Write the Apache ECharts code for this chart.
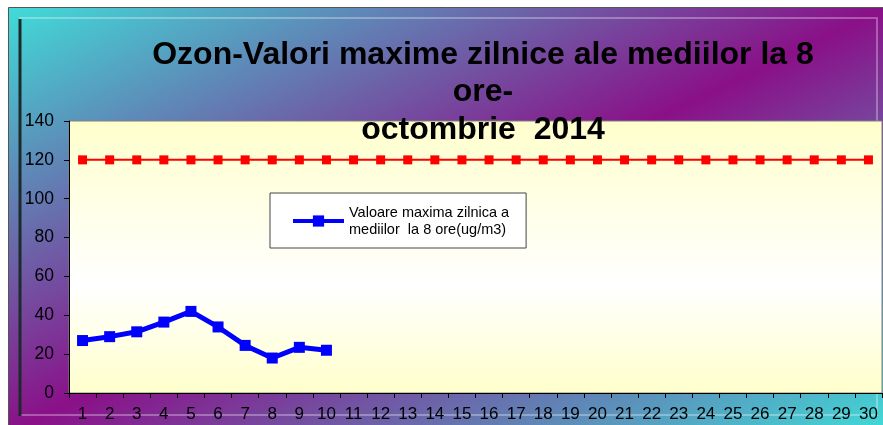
<!DOCTYPE html>
<html>
<head>
<meta charset="utf-8">
<script src="https://cdn.jsdelivr.net/npm/echarts@6/dist/echarts.min.js"></script>
<style>
  html, body { margin: 0; padding: 0; background: #fff; }
  #chart { width: 883px; height: 425px; }
</style>
</head>
<body>
<div id="chart"></div>
<script>
// zilele lunii
const days = ['1', '2', '3', '4', '5', '6', '7', '8', '9', '10',
  '11', '12', '13', '14', '15', '16', '17', '18', '19', '20',
  '21', '22', '23', '24', '25', '26', '27', '28', '29', '30'];
// valori maxime zilnice (ug/m3)
const ozoneMax = [27, 29, 31.5, 36.5, 42, 34, 24.5, 18, 23.5, 22];
// valoare tinta 120
const targetValue = [120, 120, 120, 120, 120, 120, 120, 120, 120, 120,
  120, 120, 120, 120, 120, 120, 120, 120, 120, 120,
  120, 120, 120, 120, 120, 120, 120, 120, 120, 120];
const yTicks = { min: 0, max: 140, interval: 20 };

const seriesName = 'Valoare maxima zilnica a mediilor  la 8 ore(ug/m3)';
const font = '"Liberation Sans", Arial, sans-serif';

const chart = echarts.init(document.getElementById('chart'));

const option = {
  animation: false,
  graphic: [
    {
      // fundal cu gradient cyan - mov - cyan
      type: 'rect', z: -10, silent: true,
      shape: { x: 8.5, y: 7.5, width: 880, height: 425 },
      style: {
        fill: {
          type: 'linear', global: true,
          x: 281, y: -125, x2: 615, y2: 565,
          colorStops: [
            { offset: 0, color: '#40dcd8' },
            { offset: 0.5, color: '#8a1088' },
            { offset: 1, color: '#40dcd8' }
          ]
        },
        stroke: '#555', lineWidth: 1
      }
    },
    {
      type: 'rect', z: -9, silent: true,
      shape: { x: 20, y: 18, width: 857, height: 397 },
      style: { fill: 'none', stroke: 'rgba(255,255,255,0.3)', lineWidth: 2 }
    },
    {
      type: 'line', z: -8, silent: true,
      shape: { x1: 20, y1: 19, x2: 20, y2: 416 },
      style: { stroke: '#1c2a2a', lineWidth: 3 }
    }
  ],
  title: {
    text: 'Ozon-Valori maxime zilnice ale mediilor la 8\nore-\noctombrie  2014',
    left: 478,
    top: 31,
    textAlign: 'center',
    textStyle: {
      fontFamily: font,
      fontSize: 32,
      fontWeight: 'bold',
      color: '#000',
      lineHeight: 37.5
    }
  },
  legend: {
    data: [seriesName],
    left: 270,
    top: 193,
    padding: [11, 17, 10, 21],
    backgroundColor: '#fff',
    borderColor: '#444',
    borderWidth: 1,
    itemWidth: 51,
    itemHeight: 14,
    lineStyle: { width: 4 },
    formatter: () => 'Valoare maxima zilnica a\nmediilor  la 8 ore(ug/m3)',
    textStyle: { fontFamily: font, fontSize: 14.5, lineHeight: 17, color: '#000' }
  },
  grid: {
    left: 69,
    top: 121,
    right: 1,
    bottom: 32,
    show: true,
    borderColor: '#808080',
    borderWidth: 1,
    backgroundColor: {
      type: 'linear', x: 0, y: 0, x2: 0, y2: 1,
      colorStops: [
        { offset: 0, color: '#ffffcc' },
        { offset: 0.6, color: '#ffffff' },
        { offset: 1, color: '#ffffcc' }
      ]
    }
  },
  xAxis: {
    type: 'category',
    data: days,
    boundaryGap: true,
    axisLine: { lineStyle: { color: '#000', width: 1 } },
    axisTick: { show: true, length: 5, lineStyle: { color: '#000' } },
    axisLabel: { fontFamily: font, fontSize: 17, color: '#000', margin: 13, interval: 0 },
    splitLine: { show: false }
  },
  yAxis: {
    type: 'value',
    min: yTicks.min,
    max: yTicks.max,
    interval: yTicks.interval,
    axisLine: { show: true, lineStyle: { color: '#000', width: 1 } },
    axisTick: { show: true, length: 5, lineStyle: { color: '#000' } },
    axisLabel: { fontFamily: font, fontSize: 17.5, color: '#000', margin: 15 },
    splitLine: { show: false }
  },
  series: [
    {
      name: 'Valoare tinta',
      type: 'line',
      data: targetValue,
      symbol: 'rect',
      symbolSize: 9,
      lineStyle: { color: '#ff0000', width: 2 },
      itemStyle: { color: '#ff0000' }
    },
    {
      name: seriesName,
      type: 'line',
      data: ozoneMax,
      symbol: 'rect',
      symbolSize: 11,
      lineStyle: { color: '#0000ff', width: 5 },
      itemStyle: { color: '#0000ff' }
    }
  ]
};

chart.setOption(option);
</script>
</body>
</html>
